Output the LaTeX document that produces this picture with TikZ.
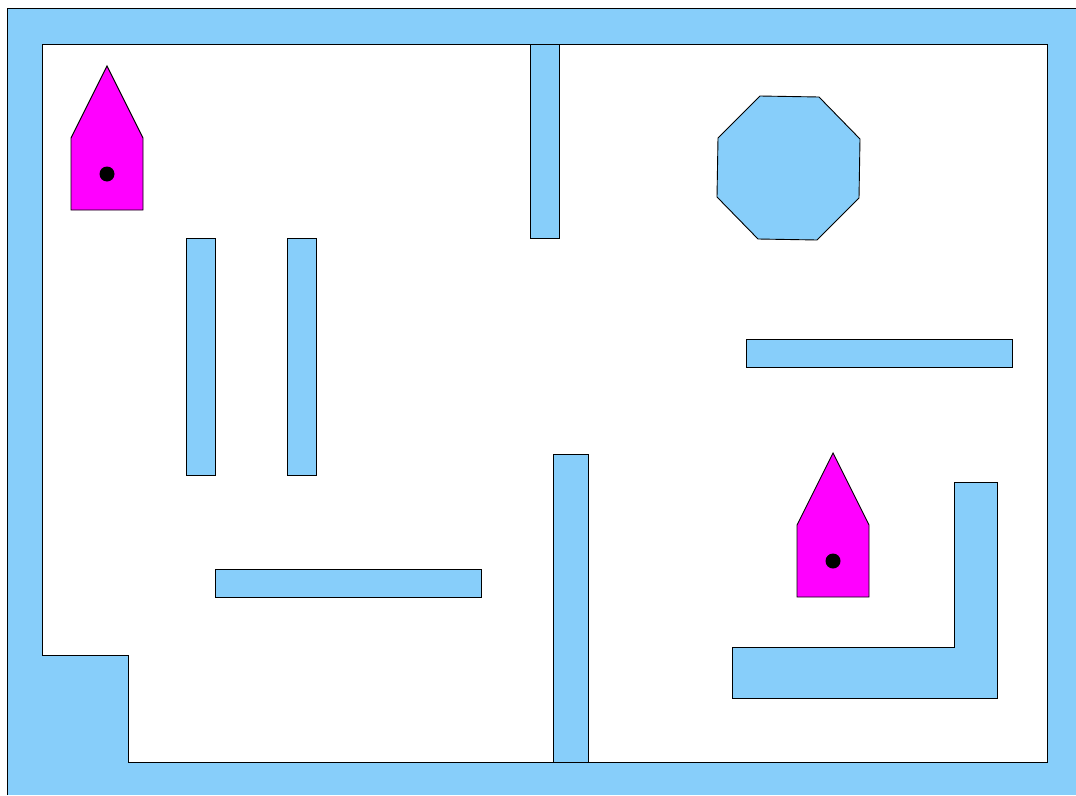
\documentclass[tikz,border=0pt]{standalone}
\usepackage{tikz}
\usetikzlibrary{positioning,calc}
\definecolor{skyblue}{RGB}{135,206,250}
\definecolor{robotpink}{RGB}{255,0,255}

\begin{document}
\begin{tikzpicture}[x=1pt,y=-1pt,
    wall/.style={fill=skyblue,draw=black,line width=0.9pt},
    robot/.style={fill=robotpink,draw=black,line width=0.9pt}]

\useasboundingbox (0,0) rectangle (1076,795);

% Outer wall
\fill[skyblue] (7,8) rectangle (1076,795);
\draw[line width=1pt] (7,795) -- (7,8) -- (1076,8);

% Free space
\draw[fill=white,line width=0.9pt] (42,44) -- (1047,44) -- (1047,762) -- (128,762)
    -- (128,655) -- (42,655) -- cycle;

% Obstacles
\foreach \xa/\ya/\xb/\yb in {530/44/559/238, 186/238/215/475, 287/238/316/475,
    746/339/1012/367, 215/569/481/597, 553/454/588/762} {
    \draw[wall] (\xa,\ya) rectangle (\xb,\yb);
}
\draw[wall] (954,482) -- (997,482) -- (997,698) -- (732,698) -- (732,647)
    -- (954,647) -- cycle;
\draw[wall] (760,96) -- (819,97) -- (860,139) -- (859,198) -- (817,240)
    -- (758,239) -- (717,197) -- (718,138) -- cycle;

% Robots
\foreach \rx/\ry [count=\i] in {107/66, 833/453} {
    \coordinate (r\i) at (\rx,\ry);
    \draw[robot] (r\i) -- ++(36,72) -- ++(0,72) -- ++(-72,0) -- ++(0,-72) -- cycle;
    \fill[black] ($(r\i)+(0,108)$) circle (7.5);
}

\end{tikzpicture}
\end{document}
